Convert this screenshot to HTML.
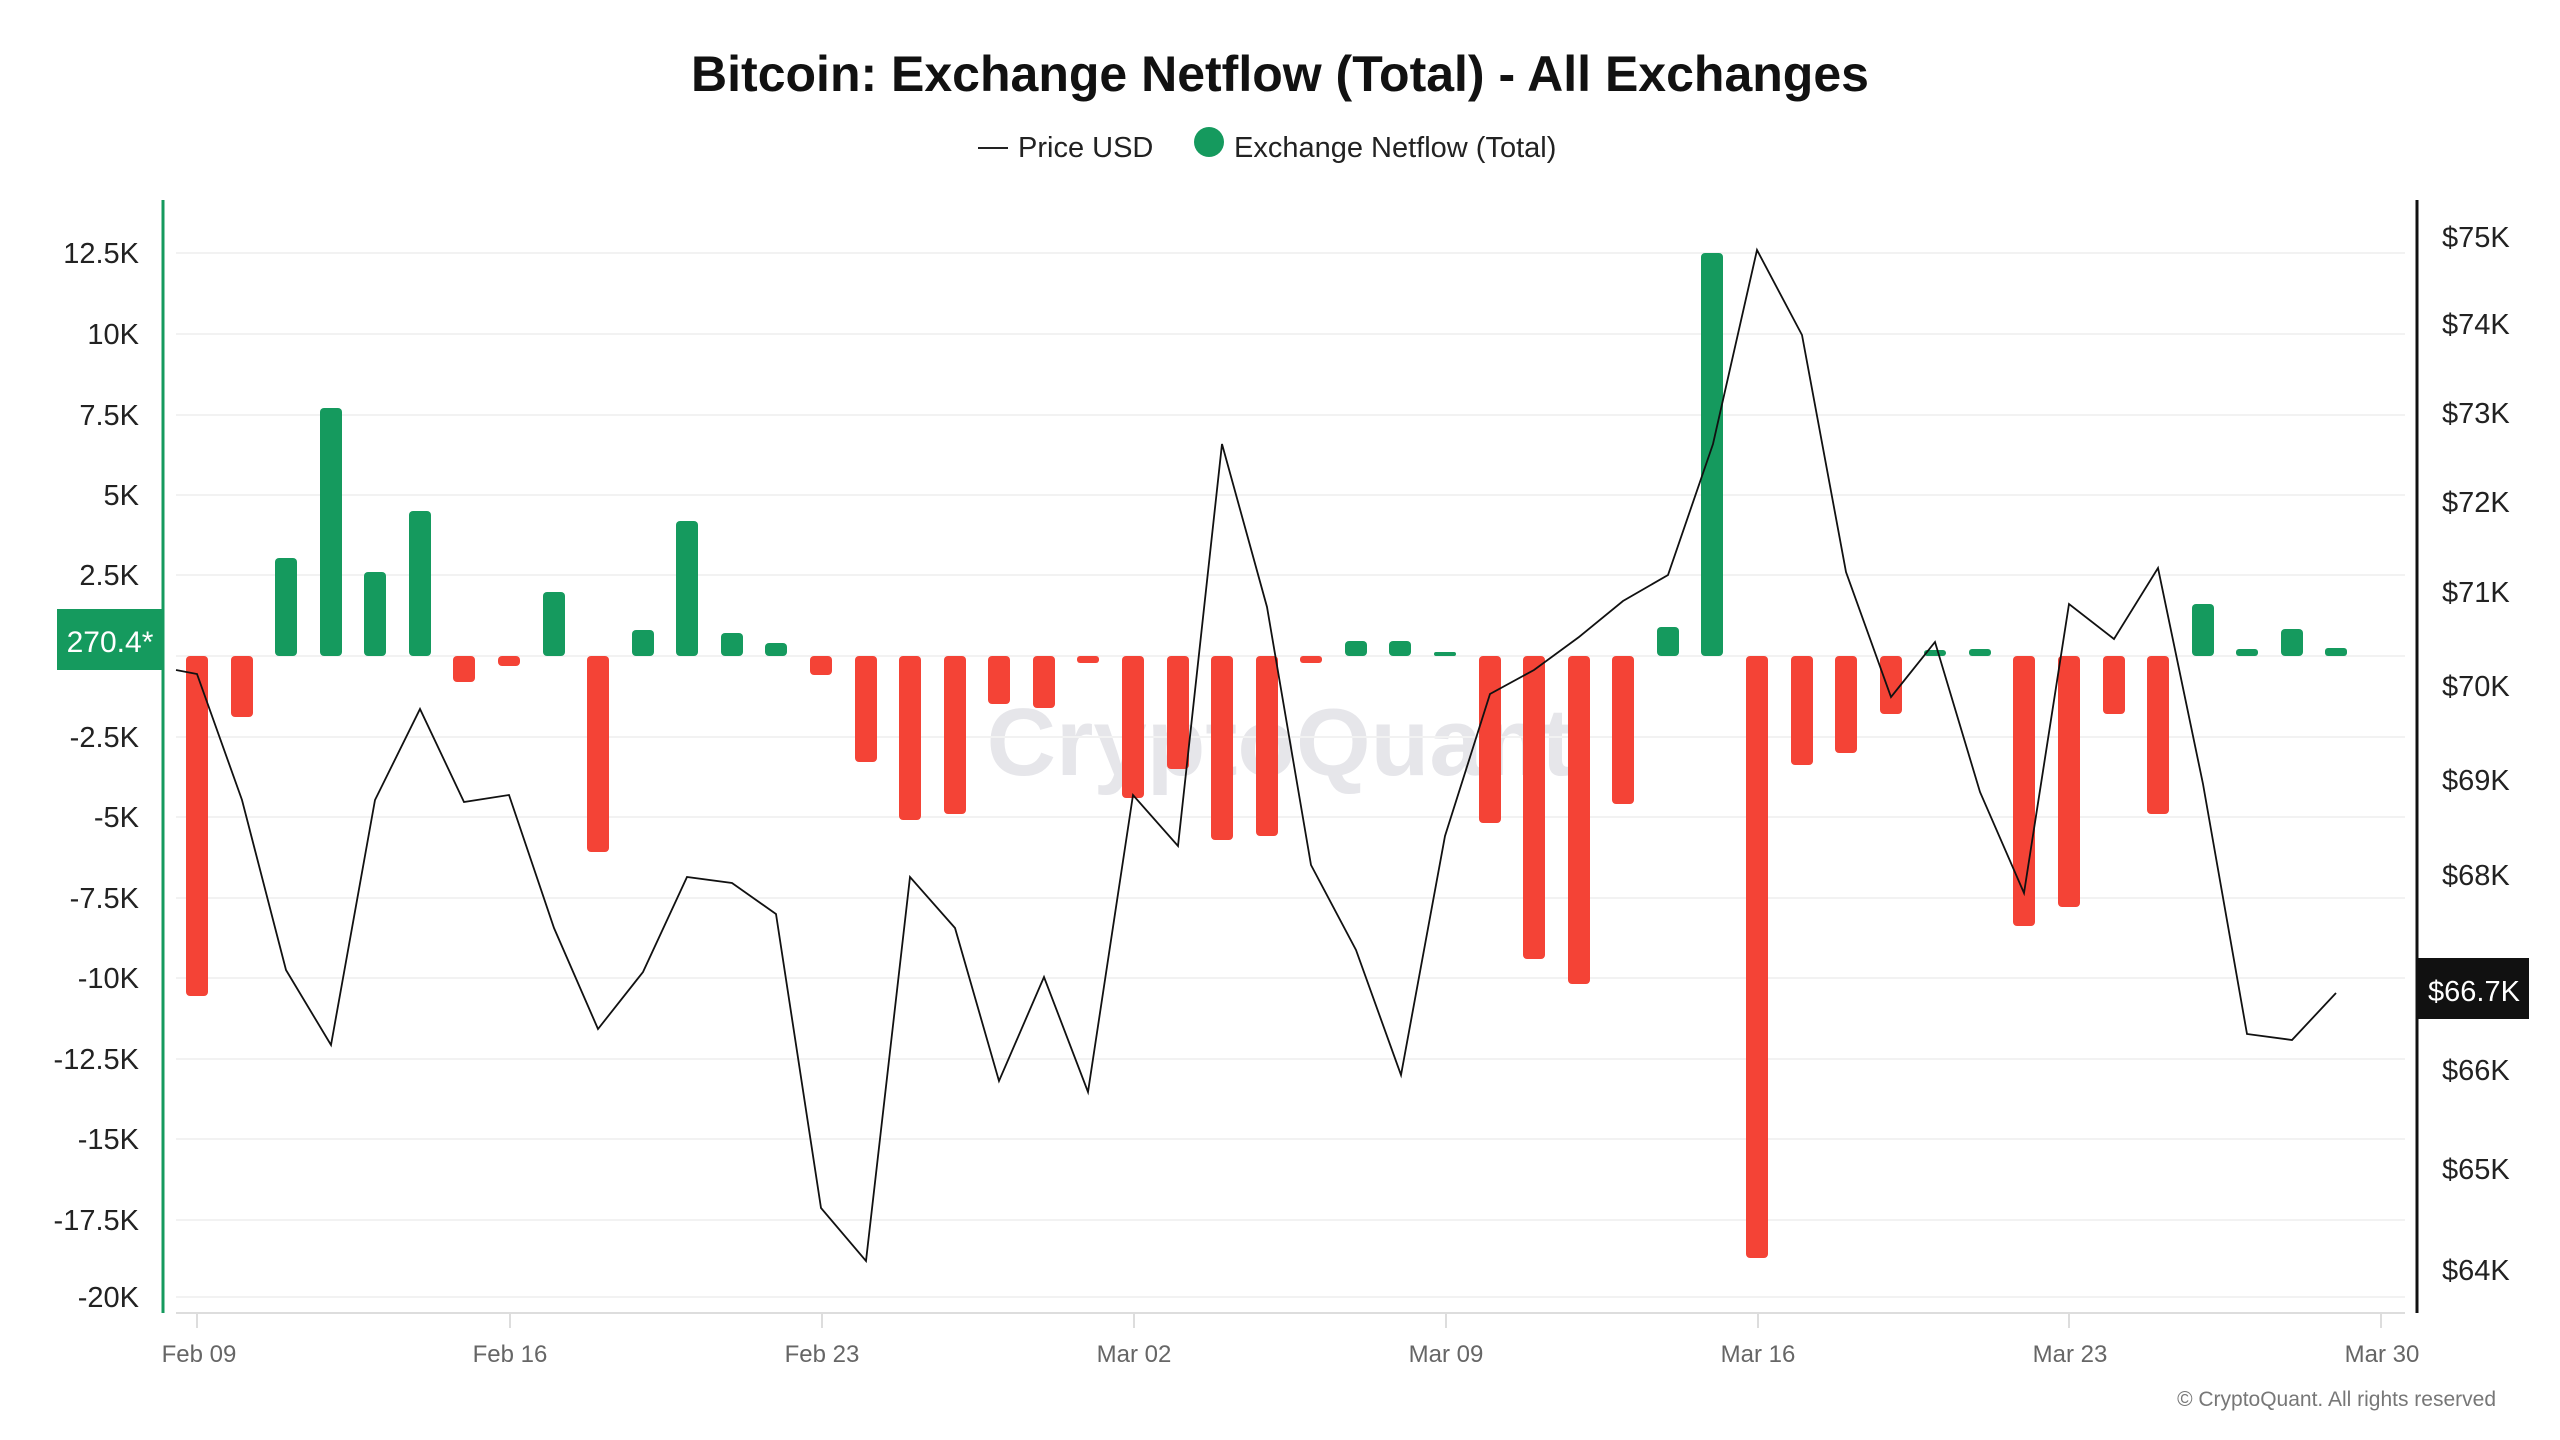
<!DOCTYPE html>
<html><head><meta charset="utf-8"><style>
html,body{margin:0;padding:0;background:#fff;}
svg{display:block;font-family:"Liberation Sans",sans-serif;}
</style></head><body>
<svg width="2560" height="1440" viewBox="0 0 2560 1440" xmlns="http://www.w3.org/2000/svg">
<rect width="2560" height="1440" fill="#fff"/>
<text x="1280" y="91" text-anchor="middle" font-size="50" font-weight="bold" fill="#111">Bitcoin: Exchange Netflow (Total) - All Exchanges</text>
<line x1="978" y1="148" x2="1008" y2="148" stroke="#222" stroke-width="2"/>
<text x="1018" y="157" font-size="29" fill="#222">Price USD</text>
<circle cx="1209" cy="142" r="15" fill="#159a5e"/>
<text x="1234" y="157" font-size="29" fill="#222">Exchange Netflow (Total)</text>
<text x="1280" y="775" text-anchor="middle" font-size="96" fill="#e6e6ea" font-weight="bold">CryptoQuant</text>
<g stroke="#f2f2f2" stroke-width="2">
<line x1="176" y1="253" x2="2405" y2="253"/><line x1="176" y1="334" x2="2405" y2="334"/>
<line x1="176" y1="415" x2="2405" y2="415"/><line x1="176" y1="495" x2="2405" y2="495"/>
<line x1="176" y1="575" x2="2405" y2="575"/><line x1="176" y1="656" x2="2405" y2="656"/>
<line x1="176" y1="737" x2="2405" y2="737"/><line x1="176" y1="817" x2="2405" y2="817"/>
<line x1="176" y1="898" x2="2405" y2="898"/><line x1="176" y1="978" x2="2405" y2="978"/>
<line x1="176" y1="1059" x2="2405" y2="1059"/><line x1="176" y1="1139" x2="2405" y2="1139"/>
<line x1="176" y1="1220" x2="2405" y2="1220"/><line x1="176" y1="1297" x2="2405" y2="1297"/>
</g>
<line x1="176" y1="1313" x2="2405" y2="1313" stroke="#ddd" stroke-width="2"/>
<g stroke="#ddd" stroke-width="2">
<line x1="197" y1="1313" x2="1328" y2="1313" stroke="none"/>
<line x1="197" y1="1313" x2="197" y2="1328"/><line x1="510" y1="1313" x2="510" y2="1328"/>
<line x1="822" y1="1313" x2="822" y2="1328"/><line x1="1134" y1="1313" x2="1134" y2="1328"/>
<line x1="1446" y1="1313" x2="1446" y2="1328"/><line x1="1758" y1="1313" x2="1758" y2="1328"/>
<line x1="2069" y1="1313" x2="2069" y2="1328"/><line x1="2381" y1="1313" x2="2381" y2="1328"/>
</g>
<g font-size="24" fill="#666" text-anchor="middle">
<text x="199" y="1362">Feb 09</text><text x="510" y="1362">Feb 16</text><text x="822" y="1362">Feb 23</text>
<text x="1134" y="1362">Mar 02</text><text x="1446" y="1362">Mar 09</text><text x="1758" y="1362">Mar 16</text>
<text x="2070" y="1362">Mar 23</text><text x="2382" y="1362">Mar 30</text>
</g>
<g font-size="29" fill="#222" text-anchor="end">
<text x="139" y="263">12.5K</text><text x="139" y="344">10K</text><text x="139" y="425">7.5K</text>
<text x="139" y="505">5K</text><text x="139" y="585">2.5K</text><text x="139" y="747">-2.5K</text>
<text x="139" y="827">-5K</text><text x="139" y="908">-7.5K</text><text x="139" y="988">-10K</text>
<text x="139" y="1069">-12.5K</text><text x="139" y="1149">-15K</text><text x="139" y="1230">-17.5K</text>
<text x="139" y="1307">-20K</text>
</g>
<g font-size="29" fill="#222">
<text x="2442" y="247">$75K</text><text x="2442" y="334">$74K</text><text x="2442" y="423">$73K</text>
<text x="2442" y="512">$72K</text><text x="2442" y="602">$71K</text><text x="2442" y="696">$70K</text>
<text x="2442" y="790">$69K</text><text x="2442" y="885">$68K</text><text x="2442" y="981">$67K</text>
<text x="2442" y="1080">$66K</text><text x="2442" y="1179">$65K</text><text x="2442" y="1280">$64K</text>
</g>
<g fill="#f44336">
<rect x="186" y="656" width="22" height="340" rx="4"/>
<rect x="231" y="656" width="22" height="61" rx="4"/>
<rect x="453" y="656" width="22" height="26" rx="4"/>
<rect x="498" y="656" width="22" height="10" rx="4"/>
<rect x="587" y="656" width="22" height="196" rx="4"/>
<rect x="810" y="656" width="22" height="19" rx="4"/>
<rect x="855" y="656" width="22" height="106" rx="4"/>
<rect x="899" y="656" width="22" height="164" rx="4"/>
<rect x="944" y="656" width="22" height="158" rx="4"/>
<rect x="988" y="656" width="22" height="48" rx="4"/>
<rect x="1033" y="656" width="22" height="52" rx="4"/>
<rect x="1077" y="656" width="22" height="7" rx="3"/>
<rect x="1122" y="656" width="22" height="142" rx="4"/>
<rect x="1167" y="656" width="22" height="113" rx="4"/>
<rect x="1211" y="656" width="22" height="184" rx="4"/>
<rect x="1256" y="656" width="22" height="180" rx="4"/>
<rect x="1300" y="656" width="22" height="7" rx="3"/>
<rect x="1479" y="656" width="22" height="167" rx="4"/>
<rect x="1523" y="656" width="22" height="303" rx="4"/>
<rect x="1568" y="656" width="22" height="328" rx="4"/>
<rect x="1612" y="656" width="22" height="148" rx="4"/>
<rect x="1746" y="656" width="22" height="602" rx="4"/>
<rect x="1791" y="656" width="22" height="109" rx="4"/>
<rect x="1835" y="656" width="22" height="97" rx="4"/>
<rect x="1880" y="656" width="22" height="58" rx="4"/>
<rect x="2013" y="656" width="22" height="270" rx="4"/>
<rect x="2058" y="656" width="22" height="251" rx="4"/>
<rect x="2103" y="656" width="22" height="58" rx="4"/>
<rect x="2147" y="656" width="22" height="158" rx="4"/>
</g>
<g fill="#159a5e">
<rect x="275" y="558" width="22" height="98" rx="4"/>
<rect x="320" y="408" width="22" height="248" rx="4"/>
<rect x="364" y="572" width="22" height="84" rx="4"/>
<rect x="409" y="511" width="22" height="145" rx="4"/>
<rect x="543" y="592" width="22" height="64" rx="4"/>
<rect x="632" y="630" width="22" height="26" rx="4"/>
<rect x="676" y="521" width="22" height="135" rx="4"/>
<rect x="721" y="633" width="22" height="23" rx="4"/>
<rect x="765" y="643" width="22" height="13" rx="4"/>
<rect x="1345" y="641" width="22" height="15" rx="4"/>
<rect x="1389" y="641" width="22" height="15" rx="4"/>
<rect x="1434" y="652" width="22" height="4" rx="2"/>
<rect x="1657" y="627" width="22" height="29" rx="4"/>
<rect x="1701" y="253" width="22" height="403" rx="4"/>
<rect x="1924" y="650" width="22" height="6" rx="3"/>
<rect x="1969" y="649" width="22" height="7" rx="3"/>
<rect x="2192" y="604" width="22" height="52" rx="4"/>
<rect x="2236" y="649" width="22" height="7" rx="3"/>
<rect x="2281" y="629" width="22" height="27" rx="4"/>
<rect x="2325" y="648" width="22" height="8" rx="3"/>
</g>
<polyline fill="none" stroke="#111" stroke-width="1.8" stroke-linejoin="miter" points="176,670 197,674 242,800 286,970 331,1045 375,800 420,709 464,802 509,795 554,928 598,1029 643,972 687,877 732,883 776,914 821,1208 866,1261 910,877 955,928 999,1081 1044,977 1088,1092 1133,795 1178,846 1222,444 1267,607 1311,865 1356,950 1401,1075 1445,836 1490,694 1534,670 1579,637 1623,601 1668,575 1713,444 1757,250 1802,335 1846,572 1891,697 1935,642 1980,792 2024,893 2069,604 2114,639 2158,568 2203,784 2247,1034 2292,1040 2336,993"/>
<line x1="163" y1="200" x2="163" y2="1313" stroke="#159a5e" stroke-width="3"/>
<line x1="2417" y1="200" x2="2417" y2="1313" stroke="#111" stroke-width="3"/>
<rect x="57" y="609" width="106" height="61" fill="#159a5e"/>
<text x="110" y="652" text-anchor="middle" font-size="30" fill="#fff">270.4*</text>
<rect x="2418" y="958" width="111" height="61" fill="#111"/>
<text x="2474" y="1001" text-anchor="middle" font-size="29" fill="#fff">$66.7K</text>
<text x="2496" y="1406" text-anchor="end" font-size="21" fill="#777">© CryptoQuant. All rights reserved</text>
</svg>
</body></html>
